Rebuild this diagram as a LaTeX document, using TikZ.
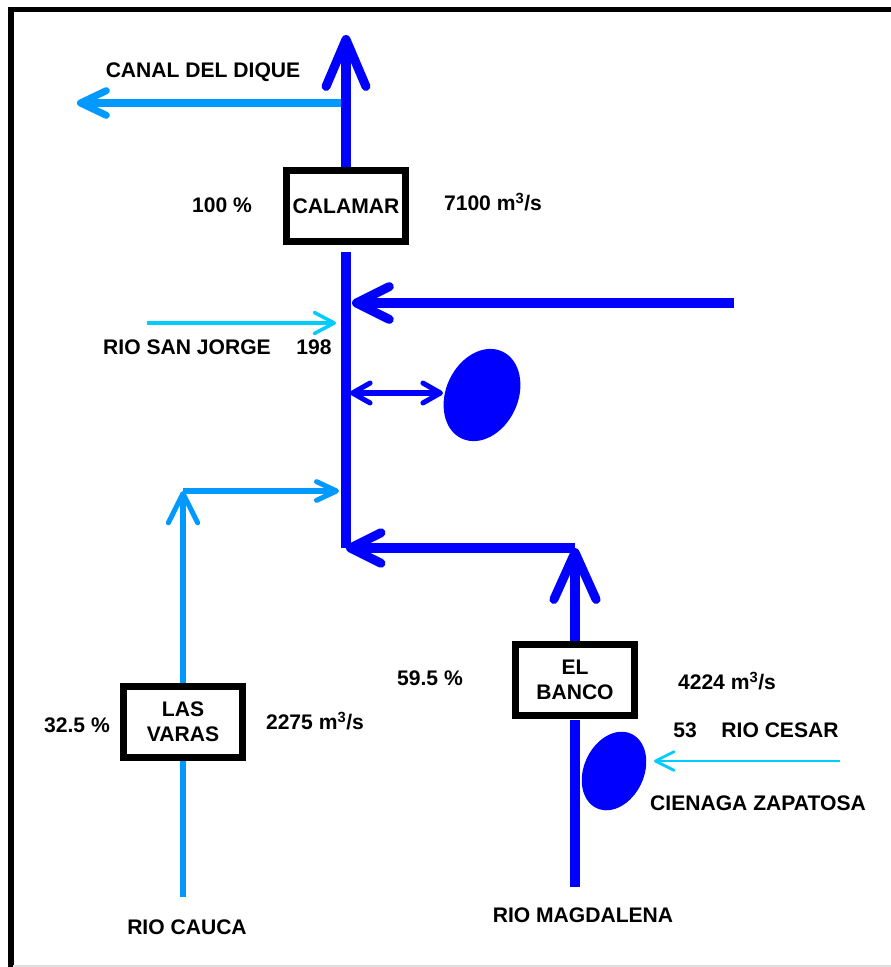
\documentclass[tikz,border=0pt]{standalone}
\usepackage{fontspec}
\setmainfont{Liberation Sans}
\usetikzlibrary{arrows.meta,positioning,shapes.geometric}

\definecolor{riodark}{RGB}{0,0,255}
\definecolor{riolight}{RGB}{0,153,255}
\definecolor{riocyan}{RGB}{0,204,255}

\begin{document}
\begin{tikzpicture}[x=0.03cm,y=-0.03cm,
    font=\fontsize{18}{21}\selectfont\bfseries,
    txt/.style={inner sep=0pt,text height=12.9pt,text depth=0pt},
    station/.style={draw,line width=6pt,fill=white,align=center,inner sep=0pt,
      minimum width=3.57cm,minimum height=2.13cm},
    lake/.style={ellipse,fill=riodark,inner sep=0pt},
    barb/.style 2 args={-{Straight Barb[length=#1,width=#2,round]}},
    trunk/.style={draw=riodark,line width=7.7pt},
    branch/.style={draw=riolight,line width=#1},
    inflow/.style={draw=riocyan,line width=3pt}]

    \useasboundingbox (0,0) rectangle (891,967);

    % draw frame
    \draw[line width=4.3pt] (11,967) -- (11,9.5) -- (891,9.5);
    \draw[black!12,line width=1pt] (13,966) -- (891,966);

    % draw stations
    \node[station] (calamar) at (346,206) {CALAMAR};
    \node[station] (lasvaras) at (183,722) {LAS\\VARAS};
    \node[station] (elbanco) at (575,680) {EL\\BANCO};

    % draw lakes
    \node[lake,minimum width=2.16cm,minimum height=2.88cm,rotate=-25] (lake1) at (482,395) {};
    \node[lake,minimum width=1.8cm,minimum height=2.46cm,rotate=-25] (zapatosa) at (614,771) {};

    % end points
    \coordinate (outlet) at (346,35);
    \coordinate (fork) at (346,103);
    \coordinate (canal) at (77,103);
    \coordinate (junction) at (346,548);
    \coordinate (bend) at (575,548);
    \coordinate (source) at (575,887);
    \coordinate (east) at (734,303);
    \coordinate (eastin) at (352,303);
    \coordinate (sanjorge) at (147,323);
    \coordinate (sanjorgein) at (336,323);
    \coordinate (lakeout) at (350,393);
    \coordinate (lakein) at (443,393);
    \coordinate (cauca) at (183,897);
    \coordinate (corner) at (183,491);
    \coordinate (caucain) at (339,491);
    \coordinate (cesar) at (840,761);
    \coordinate (cesarin) at (654,761);

    % draw rio magdalena
    \draw[branch=6pt,barb={22pt}{21pt}] (fork) -- (canal);
    \draw[trunk,barb={40pt}{34pt}] (calamar.north) -- (outlet);
    \draw[trunk,shorten <=6pt] (calamar.south) -- (junction);
    \draw[trunk,barb={26pt}{26pt}] (bend) -- (junction);
    \draw[trunk,barb={40pt}{36pt}] (elbanco.north) -- (bend);
    \draw[trunk,shorten >=1pt] (source) -- (elbanco.south);
    \draw[trunk,barb={28pt}{28pt}] (east) -- (eastin);
    \draw[draw=riodark,line width=4.3pt,
      {Straight Barb[length=15pt,width=17pt,round]}-{Straight Barb[length=15pt,width=17pt,round]}]
      (lakeout) -- (lakein);

    % draw rio cauca
    \draw[branch=4.3pt] (cauca) -- (lasvaras.south);
    \draw[branch=4.3pt,barb={25pt}{25pt}] (lasvaras.north) -- (corner);
    \draw[branch=4.3pt,barb={17pt}{16pt}] (corner) -- (caucain);

    % draw small inflows
    \draw[inflow,barb={17pt}{18pt}] (sanjorge) -- (sanjorgein);
    \draw[inflow,line width=2.4pt,barb={16pt}{16pt}] (cesar) -- (cesarin);

    % draw labels
    \node[txt] (canallbl) at (203,70) {CANAL DEL DIQUE};
    \node[txt] (calpct) at (222,205) {100 \%};
    \node[txt] (calflow) at (493,203) {7100 m\textsuperscript{3}/s};
    \node[txt] (sjlbl) at (187,347) {RIO SAN JORGE};
    \node[txt] (sjflow) at (314,347) {198};
    \node[txt] (lvpct) at (77,725) {32.5 \%};
    \node[txt] (lvflow) at (315,722) {2275 m\textsuperscript{3}/s};
    \node[txt] (caucalbl) at (187,927) {RIO CAUCA};
    \node[txt] (ebpct) at (430,678) {59.5 \%};
    \node[txt] (ebflow) at (727,682) {4224 m\textsuperscript{3}/s};
    \node[txt] (cesarflow) at (685,730) {53};
    \node[txt] (cesarlbl) at (780,730) {RIO CESAR};
    \node[txt] (zaplbl) at (758,803) {CIENAGA ZAPATOSA};
    \node[txt] (maglbl) at (583,915) {RIO MAGDALENA};

\end{tikzpicture}
\end{document}
